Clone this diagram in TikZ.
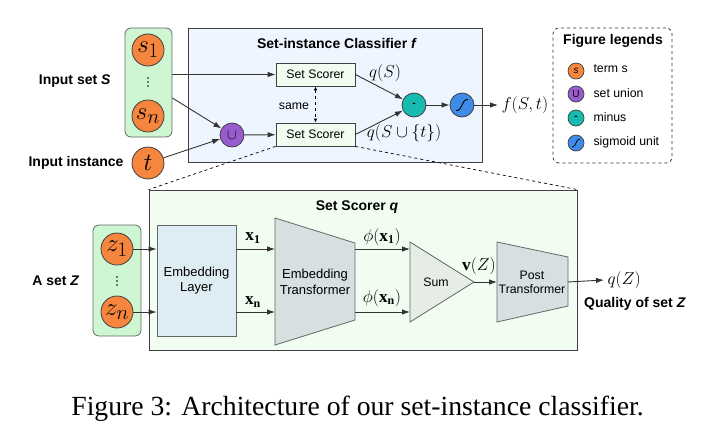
\documentclass[tikz,border=0pt]{standalone}
\usepackage{amsmath}
\usepackage{amssymb}
\usepackage{fontspec}
\setmainfont{Liberation Serif}
\setsansfont{Liberation Sans}
\usetikzlibrary{arrows.meta}

\definecolor{termorange}{RGB}{246,133,62}
\definecolor{unionpurple}{RGB}{152,92,206}
\definecolor{minusteal}{RGB}{22,186,176}
\definecolor{sigblue}{RGB}{62,140,232}
\definecolor{setgreen}{RGB}{206,246,210}
\definecolor{clsblue}{RGB}{238,245,255}
\definecolor{scorergreen}{RGB}{240,253,240}
\definecolor{embblue}{RGB}{222,237,244}
\definecolor{transgray}{RGB}{214,224,224}
\definecolor{sumgray}{RGB}{230,237,230}

\tikzset{
  arr/.style={draw=black!80, line width=0.9pt, -{Latex[length=8pt,width=5.5pt]}},
  term/.style={circle, draw=black!75, line width=0.8pt, fill=termorange, minimum size=32pt, inner sep=0pt, font=\fontsize{24.88}{26}\selectfont},
  opnode/.style={circle, draw=black!75, line width=0.8pt, minimum size=24pt, inner sep=0pt},
  legnode/.style={circle, draw=black!75, line width=0.7pt, minimum size=16pt, inner sep=0pt, font=\sffamily\fontsize{10}{11}\selectfont},
  setbox/.style={draw=black!60, line width=0.8pt, fill=setgreen, rounded corners=6pt},
  plainbox/.style={draw=black!75, line width=0.8pt},
  lab/.style={font=\sffamily\bfseries\fontsize{14}{16}\selectfont},
  txt/.style={font=\sffamily\fontsize{12.3}{14}\selectfont, align=center},
  btxt/.style={font=\sffamily\fontsize{13}{15.5}\selectfont, align=center},
  mlab/.style={font=\fontsize{17.28}{18}\selectfont},
}

\begin{document}
\begin{tikzpicture}[x=1pt,y=-1pt]
\useasboundingbox (0,0) rectangle (727,428);

% top part: classifier f
\node[plainbox, fill=clsblue, minimum width=294pt, minimum height=134pt] (cls) at (335,95) {};
\node[lab] at (337,43) {Set-instance Classifier \textit{f}};

\node[setbox, minimum width=47pt, minimum height=109pt] (Sbox) at (148.5,82.5) {};
\node[term] (s1) at (148,50) {$s_1$};
\node[term] (sn) at (148,116) {$s_n$};
\coordinate (sdots) at (148,82);
\foreach \dy in {-4,0,4}
  \fill ([yshift=\dy pt]sdots) circle (0.8pt);
\node[lab, anchor=east] (inS) at (114,81) {Input set \textit{S}};

\node[term] (t) at (148,163) {$t$};
\node[lab, anchor=east] (inT) at (127,163) {Input instance};

\node[opnode, fill=unionpurple] (un) at (232,135) {\fontsize{15}{15}\selectfont$\cup$};

\node[plainbox, fill=scorergreen, minimum width=79pt, minimum height=23pt, txt] (sc1) at (315.5,74.5) {Set Scorer};
\node[plainbox, fill=scorergreen, minimum width=79pt, minimum height=23pt, txt] (sc2) at (315.5,134.5) {Set Scorer};
\node[txt] (same) at (294,106) {same};

\node[opnode, fill=minusteal] (minus) at (414,105) {\sffamily\bfseries -};
\node[opnode, fill=sigblue] (sig) at (462,105) {};
\draw[line width=0.9pt] ([xshift=-6pt,yshift=-5.5pt]sig.center) .. controls ([xshift=1pt,yshift=-6pt]sig.center) and ([xshift=-1pt,yshift=6pt]sig.center) .. ([xshift=6pt,yshift=5.5pt]sig.center);

\node[mlab] (qS) at (385,73) {$q(S)$};
\node[mlab] (qSt) at (404,133) {$q(S\cup\{t\})$};
\node[mlab, anchor=west] (fst) at (498,105) {$f(S,t)$};

\draw[arr] (Sbox.east |- sc1.west) -- (sc1.west);
\draw[arr] ([yshift=-15.5pt]Sbox.east) -- (un);
\draw[arr] (t) -- (un);
\draw[arr] (un) -- (sc2);
\draw[dashed, line width=0.8pt, {Latex[length=4pt,width=3.5pt]}-{Latex[length=4pt,width=3.5pt]}] (sc1) -- (sc2);
\draw[arr] (sc1.east) -- (minus);
\draw[arr] (sc2.east) -- (minus);
\draw[arr] (minus) -- (sig);
\draw[arr] (sig) -- (fst.west);

% legends
\node[draw=black!80, dashed, line width=0.8pt, rounded corners=6pt, minimum width=119pt, minimum height=135pt] (leg) at (612.5,95.5) {};
\node[lab] at (613,41) {Figure legends};
\node[legnode, fill=termorange] (lg1) at (576,71) {\textit{s}};
\node[legnode, fill=unionpurple] (lg2) at (576,94) {U};
\node[legnode, fill=minusteal] (lg3) at (576,118) {\bfseries -};
\node[legnode, fill=sigblue] (lg4) at (576,143) {};
\draw[line width=0.7pt] ([xshift=-4pt,yshift=-4pt]lg4.center) .. controls ([xshift=1pt,yshift=-4pt]lg4.center) and ([xshift=-1pt,yshift=4pt]lg4.center) .. ([xshift=4pt,yshift=4pt]lg4.center);
\node[txt, anchor=west] at (590,69) {term s};
\node[txt, anchor=west] at (590,93) {set union};
\node[txt, anchor=west] at (590,117) {minus};
\node[txt, anchor=west] at (590,142) {sigmoid unit};

% bottom part: set scorer q
\node[plainbox, fill=scorergreen, minimum width=428pt, minimum height=160pt] (qbox) at (363,270) {};
\draw[dashed, line width=0.7pt] (sc2.south west) -- (qbox.north west);
\draw[dashed, line width=0.7pt] (sc2.south east) -- (qbox.north east);
\node[lab] at (357,207) {Set Scorer \textit{q}};

\node[setbox, minimum width=48pt, minimum height=111pt] (Zbox) at (117,280.5) {};
\node[term] (z1) at (117,249) {$z_1$};
\node[term] (zn) at (117,312) {$z_n$};
\coordinate (zdots) at (117,281);
\foreach \dy in {-4,0,4}
  \fill ([yshift=\dy pt]zdots) circle (0.8pt);
\node[lab, anchor=east] (setZ) at (83,281) {A set \textit{Z}};

\node[plainbox, draw=black!60, fill=embblue, minimum width=79pt, minimum height=111pt, btxt] (emb) at (196.5,280.5) {Embedding\\Layer};

\coordinate (et1) at (275,218);
\coordinate (et2) at (355,243);
\coordinate (et3) at (355,320);
\coordinate (et4) at (275,345);
\draw[plainbox, draw=black!60, fill=transgray] (et1) -- (et2) -- (et3) -- (et4) -- cycle;
\node[btxt] (etr) at (315,282) {Embedding\\Transformer};

\coordinate (sm1) at (410,242);
\coordinate (smA) at (474,282);
\coordinate (sm3) at (410,322);
\draw[plainbox, draw=black!60, fill=sumgray] (sm1) -- (smA) -- (sm3) -- cycle;
\node[txt] (sum) at (436,282) {Sum};

\coordinate (pt1) at (497,242);
\coordinate (pt2) at (568,257);
\coordinate (pt3) at (568,306);
\coordinate (pt4) at (497,322);
\draw[plainbox, draw=black!60, fill=transgray] (pt1) -- (pt2) -- (pt3) -- (pt4) -- cycle;
\node[txt] (post) at (532,282) {Post\\Transformer};

\node[mlab, anchor=west] (qZ) at (604,280) {$q(Z)$};
\node[lab] (qual) at (635,304) {Quality of set \textit{Z}};

\draw[arr] (z1.east) -- (emb.west |- z1);
\draw[arr] (zn.east) -- (emb.west |- zn);
\draw[arr] (emb.east |- z1) -- (et1 |- z1);
\draw[arr] (emb.east |- zn) -- (et1 |- zn);
\draw[arr] (et2 |- z1) -- (sm1 |- z1);
\draw[arr] (et2 |- zn) -- (sm1 |- zn);
\draw[arr] (smA) -- (pt1 |- smA);
\draw[arr] (pt2 |- smA) -- (qZ.west);

\node[mlab] at (253,238) {$\mathbf{x_1}$};
\node[mlab] at (253,302) {$\mathbf{x_n}$};
\node[mlab] at (382,237) {$\phi(\mathbf{x_1})$};
\node[mlab] at (382,298) {$\phi(\mathbf{x_n})$};
\node[mlab] at (479,266) {$\mathbf{v}(Z)$};

% caption
\node[anchor=base, font=\fontsize{27.7}{30}\selectfont] (cap) at (357.5,415) {Figure 3: Architecture of our set-instance classifier.};
\end{tikzpicture}
\end{document}
